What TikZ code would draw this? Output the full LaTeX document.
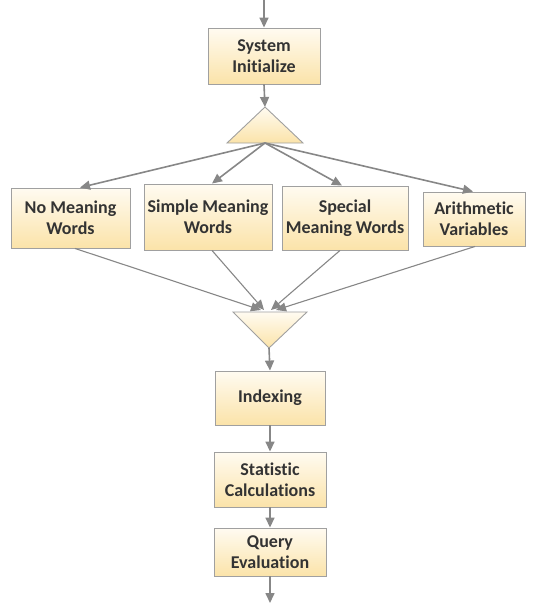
\documentclass[tikz,border=0pt]{standalone}
\usepackage{fontspec}
\setmainfont{Carlito}[Ligatures={NoCommon,NoContextual}]
\usetikzlibrary{arrows.meta,shadows,calc}
\definecolor{boxtop}{HTML}{FFFBF1}
\definecolor{boxbot}{HTML}{FBE3A9}
\definecolor{boxedge}{HTML}{A0A0A0}
\definecolor{linec}{HTML}{878787}
\definecolor{txt}{HTML}{333333}
\tikzset{
  box/.style={draw=boxedge, line width=0.9pt, top color=boxtop, bottom color=boxbot,
    align=center, inner sep=0pt, text=txt,
    font=\fontsize{18}{21}\selectfont\bfseries,
    drop shadow={shadow xshift=1.2pt, shadow yshift=-1.2pt, fill=black, opacity=0.18}},
  tri/.style={draw=boxedge, line width=0.9pt, top color=boxtop, bottom color=boxbot},
  conn/.style={draw=linec, line width=1.6pt, -{Triangle[length=10pt,width=9pt]}},
  thin/.style={draw=linec, line width=1.1pt, -{Triangle[length=10pt,width=9pt]}},
}
\begin{document}
\begin{tikzpicture}[x=1pt,y=-1pt]
\useasboundingbox (0,0) rectangle (536,605);
\node[box, minimum width=112pt, minimum height=56pt] (sys) at (264,56) {System\\Initialize};
\node[box, minimum width=119pt, minimum height=60pt] (nomean) at (70.5,218) {No Meaning\\Words};
\node[box, minimum width=128pt, minimum height=66pt] (simple) at (208,217) {Simple Meaning\\Words};
\node[box, minimum width=126pt, minimum height=64pt] (special) at (345,218) {Special\\Meaning Words};
\node[box, minimum width=102pt, minimum height=54pt] (arith) at (474,219) {Arithmetic\\Variables};
\node[box, minimum width=110pt, minimum height=54pt] (index) at (270,398) {Indexing};
\node[box, minimum width=112pt, minimum height=55pt] (stat) at (270,479.5) {Statistic\\Calculations};
\node[box, minimum width=112pt, minimum height=48pt] (query) at (270,552) {Query\\Evaluation};
% split triangle
\coordinate (splitapex) at (265,107);
\coordinate (splitbase) at (265,143);
\path[tri] (splitapex) -- (303,143) -- (227,143) -- cycle;
% merge triangle
\coordinate (mergetop) at (270,310);
\coordinate (mergeapex) at (269,348);
\path[tri] (233,312) -- (307,312) -- (mergeapex) -- cycle;
% connectors
\coordinate (start) at (264,0);
\coordinate (finish) at (270,603);
\draw[conn] (start) -- (sys.north);
\draw[conn] (sys.south) -- (splitapex);
\draw[conn] (splitbase) -- ([xshift=9.5pt]nomean.north);
\draw[conn] (splitbase) -- ([xshift=4pt]simple.north);
\draw[conn] (splitbase) -- ([xshift=-3pt]special.north);
\draw[conn] (splitbase) -- ([xshift=-1pt]arith.north);
\draw[thin] ([xshift=4.5pt]nomean.south) -- ([xshift=-9pt]mergetop);
\draw[thin] ([xshift=4pt]simple.south) -- ([xshift=-6pt]mergetop);
\draw[thin] ([xshift=-5pt]special.south) -- ([xshift=1pt]mergetop);
\draw[thin] ([xshift=1pt]arith.south) -- ([xshift=6pt]mergetop);
\draw[conn] (mergeapex) -- (index.north);
\draw[conn] (index.south) -- (stat.north);
\draw[conn] (stat.south) -- (query.north);
\draw[conn] (query.south) -- (finish);
\end{tikzpicture}
\end{document}
